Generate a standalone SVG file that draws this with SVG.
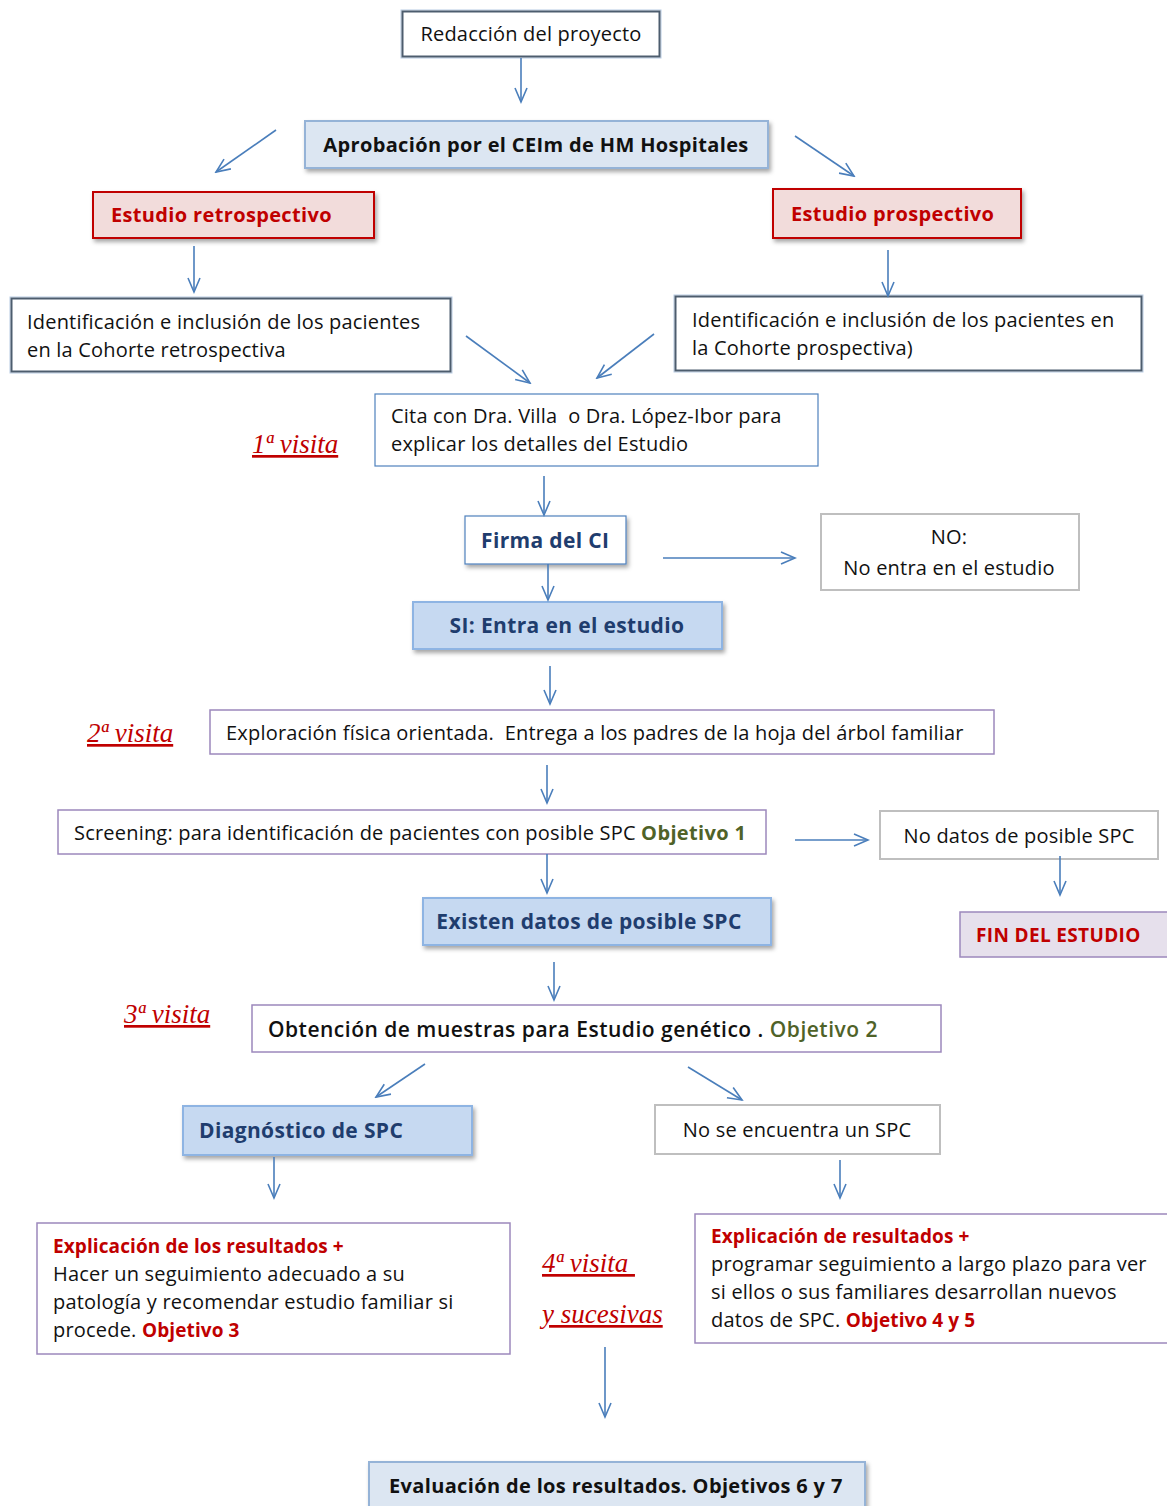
<svg xmlns="http://www.w3.org/2000/svg" width="1167" height="1506" viewBox="0 0 1167 1506">
<defs>
<marker id="ah" markerUnits="userSpaceOnUse" viewBox="-16 -8 18 16" refX="0" refY="0" markerWidth="18" markerHeight="16" orient="auto">
<path d="M-14,-6 L0,0 L-14,6" fill="none" stroke="#4a7ebb" stroke-width="1.6"/>
</marker>
<filter id="sh" x="-10%" y="-20%" width="120%" height="150%">
<feDropShadow dx="2" dy="3" stdDeviation="2" flood-color="#000" flood-opacity="0.35"/>
</filter>
<style>
text{font-family:"Open Sans","Noto Sans","DejaVu Sans",sans-serif;font-size:20px;letter-spacing:0.2px;fill:#111;white-space:pre}
.b{font-weight:bold;letter-spacing:0.35px}
.red{fill:#c00000}
.dblue{fill:#1f3d6e;font-size:21px}
.green{fill:#4f6228}
.sm{font-size:19px;letter-spacing:0.1px}
.vis{font-family:"Liberation Serif","Times New Roman",serif;font-style:italic;font-size:27px;letter-spacing:0;fill:#c00000;text-decoration:underline}
.slate{fill:#fff;stroke:#4d5d6e;stroke-width:2}
.slateo{fill:none;stroke:#b8cce4;stroke-width:1}
.lblue{fill:#dce6f2;stroke:#95b3d7;stroke-width:2}
.mblue{fill:#c6d9f1;stroke:#8eb4e3;stroke-width:2}
.pink{fill:#f2dcdb;stroke:#c00000;stroke-width:2}
.wblue{fill:#fff;stroke:#4f81bd;stroke-width:1.2}
.gray{fill:#fff;stroke:#bfbfbf;stroke-width:2}
.purp{fill:#fff;stroke:#9c88bc;stroke-width:1.5}
.lav{fill:#e6e0ec;stroke:#9c88bc;stroke-width:1.5}
.c line{stroke:#4a7ebb;stroke-width:1.6;marker-end:url(#ah)}
</style>
</defs>

<g id="n1">
<rect x="401" y="10" width="260" height="48" class="slateo"/>
<rect x="402.5" y="11.5" width="257" height="45" class="slate"/>
<text x="531" y="41" text-anchor="middle">Redacción del proyecto</text>
</g>
<g id="n2">
<rect x="305" y="121" width="463" height="47" class="lblue" filter="url(#sh)"/>
<text x="536" y="152" text-anchor="middle" class="b">Aprobación por el CEIm de HM Hospitales</text>
</g>
<g id="n3">
<rect x="93" y="192" width="281" height="46" class="pink" filter="url(#sh)"/>
<text x="111" y="222" class="b red">Estudio retrospectivo</text>
</g>
<g id="n4">
<rect x="773" y="189" width="248" height="49" class="pink" filter="url(#sh)"/>
<text x="791" y="221" class="b red">Estudio prospectivo</text>
</g>
<g id="n5">
<rect x="10" y="297" width="442" height="76" class="slateo"/>
<rect x="11.5" y="298.5" width="439" height="73" class="slate"/>
<text x="27" y="329">Identificación e inclusión de los pacientes</text>
<text x="27" y="357">en la Cohorte retrospectiva</text>
</g>
<g id="n6">
<rect x="674" y="295" width="469" height="77" class="slateo"/>
<rect x="675.5" y="296.5" width="466" height="74" class="slate"/>
<text x="692" y="327">Identificación e inclusión de los pacientes en</text>
<text x="692" y="355">la Cohorte prospectiva)</text>
</g>
<g id="n7">
<rect x="375" y="394" width="443" height="72" class="wblue"/>
<text x="391" y="423" xml:space="preserve">Cita con Dra. Villa  o Dra. López-Ibor para</text>
<text x="391" y="451">explicar los detalles del Estudio</text>
</g>
<text x="252" y="453" class="vis">1ª visita</text>
<g id="n8">
<rect x="465" y="516" width="161" height="48" class="wblue" filter="url(#sh)"/>
<text x="481" y="548" class="b dblue">Firma del CI</text>
</g>
<g id="n9">
<rect x="821" y="514" width="258" height="76" class="gray"/>
<text x="949" y="544" text-anchor="middle">NO:</text>
<text x="949" y="575" text-anchor="middle">No entra en el estudio</text>
</g>
<g id="n10">
<rect x="413" y="602" width="309" height="47" class="mblue" filter="url(#sh)"/>
<text x="567" y="633" text-anchor="middle" class="b dblue">SI: Entra en el estudio</text>
</g>
<g id="n11">
<rect x="210" y="710" width="784" height="44" class="purp"/>
<text x="226" y="740" xml:space="preserve">Exploración física orientada.  Entrega a los padres de la hoja del árbol familiar</text>
</g>
<text x="87" y="742" class="vis">2ª visita</text>
<g id="n12">
<rect x="58" y="810" width="708" height="44" class="purp"/>
<text x="74" y="840">Screening: para identificación de pacientes con posible SPC <tspan class="b green">Objetivo 1</tspan></text>
</g>
<g id="n13">
<rect x="880" y="811" width="278" height="48" class="gray"/>
<text x="1019" y="843" text-anchor="middle">No datos de posible SPC</text>
</g>
<g id="n14">
<rect x="423" y="898" width="348" height="47" class="mblue" filter="url(#sh)"/>
<text x="589" y="929" text-anchor="middle" class="b dblue">Existen datos de posible SPC</text>
</g>
<g id="n15">
<rect x="960" y="912" width="210" height="45" class="lav"/>
<text x="976" y="942" class="b red" style="font-size:19px">FIN DEL ESTUDIO</text>
</g>
<text x="124" y="1023" class="vis">3ª visita</text>
<g id="n16">
<rect x="252" y="1005" width="689" height="47" class="purp"/>
<text x="268" y="1037" style="font-weight:600;font-size:21px;letter-spacing:0.5px">Obtención de muestras para Estudio genético . <tspan class="green">Objetivo 2</tspan></text>
</g>
<g id="n17">
<rect x="183" y="1106" width="289" height="49" class="mblue" filter="url(#sh)"/>
<text x="199" y="1138" class="b dblue">Diagnóstico de SPC</text>
</g>
<g id="n18">
<rect x="655" y="1105" width="285" height="49" class="gray"/>
<text x="797" y="1137" text-anchor="middle">No se encuentra un SPC</text>
</g>
<g id="n19">
<rect x="37" y="1223" width="473" height="131" class="purp"/>
<text x="53" y="1253" class="b red sm">Explicación de los resultados +</text>
<text x="53" y="1281">Hacer un seguimiento adecuado a su</text>
<text x="53" y="1309">patología y recomendar estudio familiar si</text>
<text x="53" y="1337">procede. <tspan class="b red sm">Objetivo 3</tspan></text>
</g>
<g id="n20">
<rect x="695" y="1214" width="480" height="129" class="purp"/>
<text x="711" y="1243" class="b red sm">Explicación de resultados +</text>
<text x="711" y="1271">programar seguimiento a largo plazo para ver</text>
<text x="711" y="1299">si ellos o sus familiares desarrollan nuevos</text>
<text x="711" y="1327">datos de SPC. <tspan class="b red sm">Objetivo 4 y 5</tspan></text>
</g>
<text x="542" y="1272" class="vis" xml:space="preserve">4ª visita </text>
<text x="542" y="1323" class="vis">y sucesivas</text>
<g id="n21">
<rect x="369" y="1462" width="496" height="50" class="lblue" filter="url(#sh)"/>
<text x="389" y="1493" class="b">Evaluación de los resultados. Objetivos 6 y 7</text>
</g>

<g id="connectors" class="c">
<line x1="521" y1="58" x2="521" y2="102"/>
<line x1="276" y1="130" x2="216" y2="172"/>
<line x1="795" y1="136" x2="854" y2="176"/>
<line x1="194" y1="246" x2="194" y2="292"/>
<line x1="888" y1="250" x2="888" y2="296"/>
<line x1="466" y1="336" x2="530" y2="383"/>
<line x1="654" y1="334" x2="597" y2="378"/>
<line x1="544" y1="476" x2="544" y2="515"/>
<line x1="548" y1="564" x2="548" y2="600"/>
<line x1="663" y1="558" x2="795" y2="558"/>
<line x1="550" y1="666" x2="550" y2="704"/>
<line x1="547" y1="765" x2="547" y2="803"/>
<line x1="547" y1="854" x2="547" y2="893"/>
<line x1="795" y1="840" x2="868" y2="840"/>
<line x1="1060" y1="856" x2="1060" y2="895"/>
<line x1="554" y1="962" x2="554" y2="1000"/>
<line x1="425" y1="1064" x2="376" y2="1097"/>
<line x1="688" y1="1067" x2="742" y2="1100"/>
<line x1="274" y1="1157" x2="274" y2="1198"/>
<line x1="840" y1="1160" x2="840" y2="1198"/>
<line x1="605" y1="1347" x2="605" y2="1417"/>
</g>
</svg>
